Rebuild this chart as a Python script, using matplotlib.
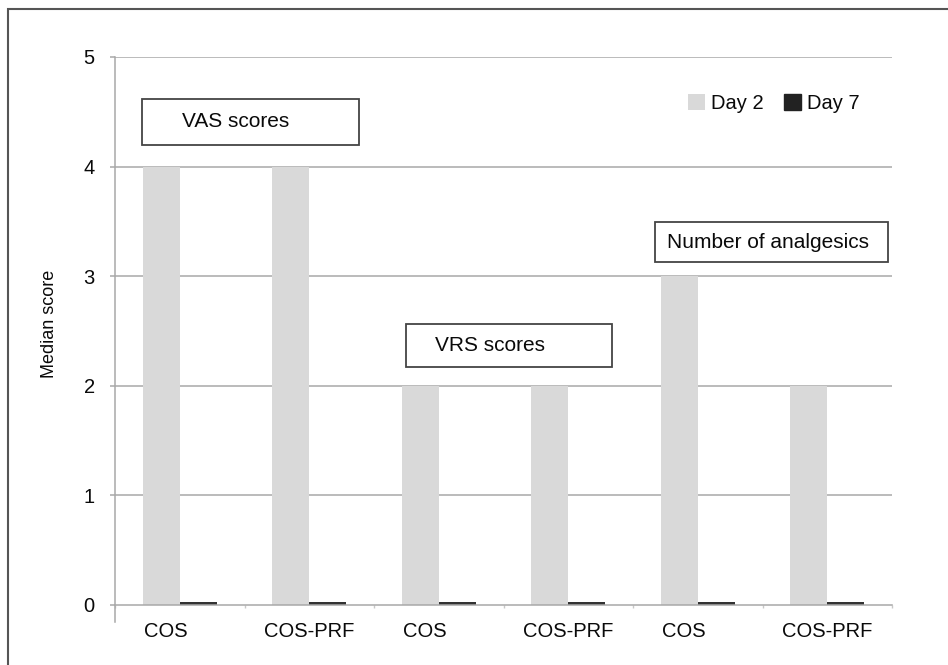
import matplotlib
matplotlib.use("Agg")
import matplotlib.pyplot as plt
import matplotlib.transforms as mtransforms
from matplotlib.patches import Rectangle
import numpy as np

# ---- data ----
categories = ["COS", "COS-PRF", "COS", "COS-PRF", "COS", "COS-PRF"]
day2 = [4, 4, 2, 2, 3, 2]
day7 = [0.03, 0.03, 0.03, 0.03, 0.03, 0.03]
series_names = ["Day 2", "Day 7"]
yticks = [0, 1, 2, 3, 4, 5]
group_labels = ["VAS scores", "VRS scores", "Number of analgesics"]

plt.rcParams["font.family"] = ["Liberation Sans", "DejaVu Sans"]

W, H = 948, 665
fig = plt.figure(figsize=(W / 100, H / 100), dpi=100)

# axes: x from 115 to 892 px, y: 0 at 605 px, 5 at 57 px
left, right = 115 / W, 892 / W
bottom, top = 1 - 605 / H, 1 - 57 / H
ax = fig.add_axes([left, bottom, right - left, top - bottom])

n = len(categories)
x = np.arange(n)
bw = 0.285
c2, c7 = "#d9d9d9", "#333333"
ax.bar(x - bw, day2, width=bw, align="edge", color=c2, label=series_names[0], zorder=2)
ax.bar(x, day7, width=bw, align="edge", color=c7, label=series_names[1], zorder=2)

ax.set_xlim(-0.5, n - 0.5)
ax.set_ylim(0, 5)

txt_c = "#0a0a0a"
grid_c = "#a8a8a8"
ax.set_yticks(yticks)
ax.set_yticklabels([str(v) for v in yticks], fontsize=14.5)
for v in yticks[1:]:
    ax.axhline(v, color=grid_c, lw=1.1, zorder=1)

for s in ["top", "right"]:
    ax.spines[s].set_visible(False)
for s in ["left", "bottom"]:
    ax.spines[s].set_color(grid_c)
    ax.spines[s].set_linewidth(1.1)
ax.spines["left"].set_bounds(-0.155, 5)
ax.tick_params(axis="y", length=3.6, width=1.1, color=grid_c, pad=11, labelcolor=txt_c)

# x ticks: labels at category centres, tick marks at boundaries
ax.set_xticks(x)
ax.set_xticklabels(categories, fontsize=14.5)
ax.tick_params(axis="x", which="major", length=0, pad=12, labelcolor=txt_c)
ax.set_xticks(np.arange(n + 1) - 0.5, minor=True)
ax.tick_params(axis="x", which="minor", length=2.5, width=1, color="#c8c8c8")
for lbl in ax.get_xticklabels():
    if lbl.get_text() == "COS":
        lbl.set_transform(lbl.get_transform() +
                          mtransforms.ScaledTranslation(-0.14, 0, fig.dpi_scale_trans))

ax.set_ylabel("Median score", fontsize=13, color=txt_c, labelpad=18)
ax.yaxis.label.set_position((0, (1 - 324 / H - bottom) / (top - bottom)))

# annotation boxes (data coords)
boxes = [(-0.2915, 4.197, 1.384, 4.617, 0.017, 4.407),
         (1.747, 2.172, 3.338, 2.564, 1.971, 2.368),
         (3.670, 3.130, 5.469, 3.495, 3.760, 3.312)]
for (x0, y0, x1, y1, tx, ty), lab in zip(boxes, group_labels):
    ax.add_patch(Rectangle((x0, y0), x1 - x0, y1 - y0, facecolor="white",
                           edgecolor="#444444", lw=1.3, zorder=3))
    ax.text(tx, ty, lab, fontsize=15, ha="left", va="center", color=txt_c, zorder=4)

# legend
leg = fig.legend(loc="upper left", bbox_to_anchor=(688 / W, 1 - 94 / H), ncol=2,
                 frameon=False, fontsize=14.5, handlelength=0.85, handleheight=0.85,
                 handletextpad=0.3, columnspacing=1.0, borderpad=0, borderaxespad=0)
leg.legend_handles[1].set_color("#222222")
for t in leg.get_texts():
    t.set_color(txt_c)

# outer frame
fig.patches.append(Rectangle((8 / W, -0.1), 1.2, (1 - 9 / H) + 0.1,
                             transform=fig.transFigure, fill=False,
                             edgecolor="#555555", lw=1.5, clip_on=False))

fig.savefig("out.png", dpi=100)
